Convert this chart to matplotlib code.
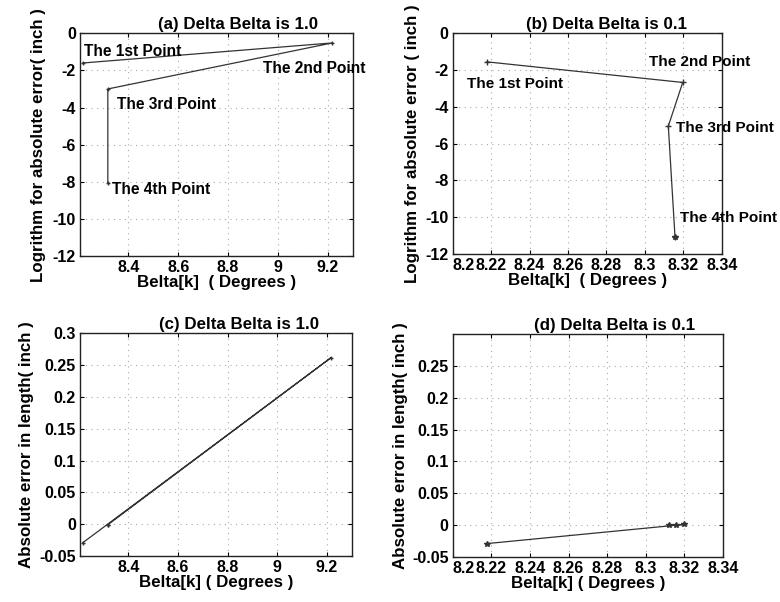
import numpy as np
import matplotlib
matplotlib.use('Agg')
import matplotlib.pyplot as plt
from matplotlib.ticker import FuncFormatter

plt.rcParams['font.family'] = ['Liberation Sans', 'DejaVu Sans']
plt.rcParams['font.weight'] = 'bold'

# step 1.0 results
beta_1 = [8.2175, 9.2175, 8.3175, 8.3175]
log_err_1 = [-1.6, -0.52, -3.0, -8.05]
abs_err_1 = [-0.029, 0.262, -0.001, -0.001]

# step 0.1 results
beta_01 = [8.2177, 8.3197, 8.3122, 8.3157]
log_err_01 = [-1.56, -2.68, -5.05, -11.1]
abs_err_01 = [-0.029, 0.001, 0.0, 0.0005]

point_names = ['The 1st Point', 'The 2nd Point', 'The 3rd Point', 'The 4th Point']
# label anchors (data coords, left / centre)
lab_a = [(8.22, -1.0), (8.94, -1.9), (8.355, -3.85), (8.335, -8.4)]
lab_b = [(8.2073, -2.75), (8.3022, -1.55), (8.3163, -5.15), (8.3183, -10.05)]

fmt = FuncFormatter(lambda v, p: '%g' % round(v, 4))
FS = 12.2


def style(ax):
    ax.grid(True, linestyle=(0, (1, 4)), color='#aaaaaa', linewidth=0.8)
    ax.tick_params(direction='in', top=True, right=True, labelsize=11.5, length=3, pad=3)
    for s in ax.spines.values():
        s.set_linewidth(1.0)
        s.set_color('#222222')
    ax.xaxis.set_major_formatter(fmt)
    ax.yaxis.set_major_formatter(fmt)


def shift_first_xlabel(ax):
    # first x tick label sits to the right of its tick, as in the original
    fig.canvas.draw()
    ax.get_xticklabels()[0].set_horizontalalignment('left')


fig = plt.figure(figsize=(7.8, 6.02), dpi=100)

ax1 = fig.add_axes([0.1026, 0.5748, 0.3496, 0.3699])
ax1.plot(beta_1, log_err_1, '-', color='#333333', linewidth=0.9, marker='+', markersize=3)
for name, (x, y) in zip(point_names, lab_a):
    ax1.text(x, y, name, fontsize=11.2, fontweight='bold', va='center', ha='left')
ax1.set_xlim(8.206, 9.3)
ax1.set_ylim(-12, 0)
ax1.set_xticks(np.arange(8.4, 9.21, 0.2))
ax1.set_yticks(np.arange(-12, 0.1, 2))
ax1.set_title('(a) Delta Belta is 1.0', fontsize=FS, fontweight='bold', pad=3, x=0.58)
ax1.set_xlabel('Belta[k]  ( Degrees )', fontsize=FS, fontweight='bold', labelpad=0)
ax1.set_ylabel('Logrithm for absolute error( inch )', fontsize=FS, fontweight='bold', labelpad=5)
style(ax1)

ax2 = fig.add_axes([0.5804, 0.578, 0.3449, 0.367])
ax2.plot(beta_01, log_err_01, '-', color='#333333', linewidth=0.9, marker='+', markersize=5)
ax2.plot(beta_01[-1:], log_err_01[-1:], linestyle='none', color='#333333', marker='*', markersize=4)
for name, (x, y) in zip(point_names, lab_b):
    ax2.text(x, y, name, fontsize=11.0, fontweight='bold', va='center', ha='left')
ax2.set_xlim(8.2, 8.34)
ax2.set_ylim(-12, 0)
ax2.set_xticks(np.arange(8.2, 8.341, 0.02))
ax2.set_yticks(np.arange(-12, 0.1, 2))
ax2.set_title('(b) Delta Belta is 0.1', fontsize=FS, fontweight='bold', pad=3, x=0.57)
ax2.set_xlabel('Belta[k]  ( Degrees )', fontsize=FS, fontweight='bold', labelpad=0)
ax2.set_ylabel('Logrithm for absolute error ( inch )', fontsize=FS, fontweight='bold', labelpad=4)
style(ax2)

ax3 = fig.add_axes([0.1026, 0.0764, 0.3483, 0.3699])
ax3.plot(beta_1, abs_err_1, '-', color='#333333', linewidth=0.9, marker='+', markersize=3)
ax3.set_xlim(8.206, 9.3)
ax3.set_ylim(-0.05, 0.3)
ax3.set_xticks(np.arange(8.4, 9.21, 0.2))
ax3.set_yticks(np.arange(-0.05, 0.31, 0.05))
ax3.set_title('(c) Delta Belta is 1.0', fontsize=FS, fontweight='bold', pad=3, x=0.585)
ax3.set_xlabel('Belta[k] ( Degrees )', fontsize=FS, fontweight='bold', labelpad=0)
ax3.set_ylabel('Absolute error in length( inch )', fontsize=FS, fontweight='bold', labelpad=4)
style(ax3)

ax4 = fig.add_axes([0.5804, 0.0748, 0.3465, 0.3704])
ax4.plot(beta_01, abs_err_01, '-', color='#333333', linewidth=0.9, marker='*', markersize=4)
ax4.set_xlim(8.2, 8.34)
ax4.set_ylim(-0.05, 0.3)
ax4.set_xticks(np.arange(8.2, 8.341, 0.02))
ax4.set_yticks(np.arange(-0.05, 0.26, 0.05))
ax4.set_title('(d) Delta Belta is 0.1', fontsize=FS, fontweight='bold', pad=3, x=0.6)
ax4.set_xlabel('Belta[k] ( Degrees )', fontsize=FS, fontweight='bold', labelpad=0)
ax4.set_ylabel('Absolute error in length( inch )', fontsize=FS, fontweight='bold', labelpad=3)
style(ax4)

shift_first_xlabel(ax2)
shift_first_xlabel(ax4)

fig.savefig('out.png', dpi=100)
